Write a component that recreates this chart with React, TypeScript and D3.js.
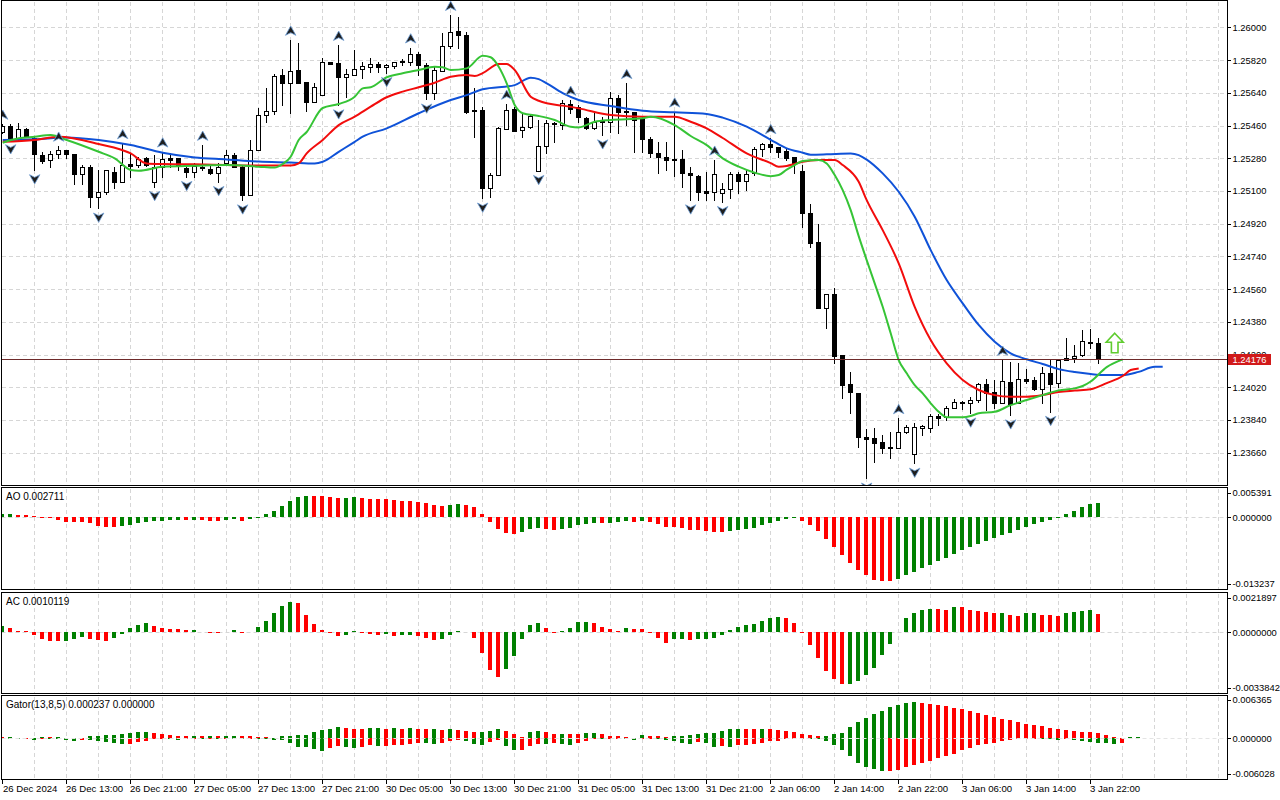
import React from 'react';
import * as d3 from 'd3';

// ---------------- DATA ----------------
const barOpen = [
1.25426,1.25458,1.25385,1.25441,1.25390,1.25298,1.25271,1.25302,1.25324,1.25302,
1.25192,1.25234,1.25065,1.25096,1.25206,1.25151,1.25249,1.25243,1.25280,1.25151,
1.25234,1.25280,1.25280,1.25228,1.25206,1.25226,1.25221,1.25197,1.25252,1.25298,
1.25234,1.25078,1.25326,1.25518,1.25540,1.25738,1.25696,1.25766,1.25701,1.25591,
1.25628,1.25811,1.25806,1.25726,1.25738,1.25770,1.25781,1.25799,1.25781,1.25788,
1.25815,1.25811,1.25854,1.25793,1.25641,1.25762,1.25898,1.25980,1.25958,1.25546,
1.25546,1.25115,1.25188,1.25440,1.25550,1.25436,1.25454,1.25212,1.25348,1.25476,
1.25463,1.25577,1.25561,1.25503,1.25445,1.25491,1.25481,1.25610,1.25542,1.25536,
1.25500,1.25385,1.25307,1.25289,1.25278,1.25278,1.25197,1.25182,1.25098,1.25096,
1.25091,1.25109,1.25193,1.25157,1.25197,1.25329,1.25357,1.25344,1.25320,1.25285,
1.25210,1.24977,1.24818,1.24458,1.24533,1.24197,1.24038,1.23987,1.23745,1.23739,
1.23717,1.23691,1.23684,1.23775,1.23653,1.23798,1.23794,1.23864,1.23855,1.23907,
1.23940,1.23932,1.23950,1.24036,1.23996,1.23932,1.24051,1.23932,1.24064,1.24060,
1.24009,1.24100,1.24042,1.24170,1.24179,1.24197,1.24271,1.24262];
const barHigh = [
1.25469,1.25469,1.25472,1.25447,1.25397,1.25316,1.25322,1.25348,1.25326,1.25304,
1.25243,1.25243,1.25216,1.25216,1.25234,1.25362,1.25307,1.25289,1.25289,1.25298,
1.25316,1.25311,1.25282,1.25238,1.25252,1.25353,1.25249,1.25252,1.25326,1.25307,
1.25243,1.25381,1.25558,1.25665,1.25744,1.25770,1.25931,1.25916,1.25701,1.25696,
1.25830,1.25811,1.25903,1.25770,1.25876,1.25811,1.25830,1.25810,1.25799,1.25811,
1.25825,1.25889,1.25863,1.25806,1.25788,1.25971,1.26068,1.26059,1.25977,1.25665,
1.25564,1.25197,1.25454,1.25579,1.25561,1.25528,1.25518,1.25491,1.25491,1.25481,
1.25601,1.25601,1.25573,1.25509,1.25536,1.25509,1.25646,1.25628,1.25693,1.25536,
1.25513,1.25395,1.25371,1.25371,1.25536,1.25326,1.25230,1.25188,1.25206,1.25271,
1.25142,1.25206,1.25206,1.25216,1.25344,1.25362,1.25390,1.25344,1.25335,1.25289,
1.25243,1.25028,1.24917,1.24533,1.24565,1.24197,1.24106,1.23987,1.23790,1.23794,
1.23757,1.23775,1.23849,1.23812,1.23822,1.23812,1.23873,1.23873,1.23917,1.23954,
1.23944,1.23968,1.24045,1.24064,1.24060,1.24170,1.24161,1.24152,1.24119,1.24078,
1.24130,1.24170,1.24170,1.24289,1.24252,1.24335,1.24339,1.24289];
const barLow = [
1.25419,1.25381,1.25381,1.25397,1.25216,1.25252,1.25230,1.25280,1.25280,1.25137,
1.25137,1.25014,1.25005,1.25082,1.25115,1.25151,1.25179,1.25234,1.25238,1.25124,
1.25179,1.25234,1.25216,1.25179,1.25179,1.25216,1.25193,1.25151,1.25243,1.25234,
1.25050,1.25078,1.25326,1.25481,1.25522,1.25573,1.25531,1.25696,1.25540,1.25591,
1.25628,1.25799,1.25573,1.25619,1.25738,1.25720,1.25756,1.25755,1.25751,1.25775,
1.25793,1.25793,1.25738,1.25605,1.25605,1.25762,1.25885,1.25885,1.25528,1.25399,
1.25060,1.25069,1.25188,1.25440,1.25432,1.25399,1.25445,1.25212,1.25308,1.25372,
1.25440,1.25528,1.25481,1.25440,1.25440,1.25408,1.25426,1.25417,1.25463,1.25316,
1.25316,1.25289,1.25197,1.25216,1.25182,1.25124,1.25050,1.25050,1.25050,1.25050,
1.25041,1.25060,1.25087,1.25105,1.25188,1.25293,1.25316,1.25289,1.25271,1.25197,
1.24903,1.24793,1.24458,1.24344,1.24152,1.23963,1.23880,1.23693,1.23519,1.23610,
1.23657,1.23629,1.23684,1.23770,1.23601,1.23757,1.23775,1.23812,1.23840,1.23904,
1.23899,1.23877,1.23940,1.23895,1.23904,1.23932,1.23867,1.23932,1.24042,1.24005,
1.23932,1.23886,1.24023,1.24170,1.24161,1.24192,1.24234,1.24152];
const barClose = [
1.25458,1.25385,1.25439,1.25403,1.25302,1.25267,1.25302,1.25324,1.25302,1.25192,
1.25230,1.25065,1.25096,1.25216,1.25151,1.25243,1.25239,1.25274,1.25243,1.25234,
1.25274,1.25271,1.25243,1.25206,1.25239,1.25234,1.25197,1.25234,1.25298,1.25234,
1.25078,1.25326,1.25518,1.25540,1.25733,1.25696,1.25760,1.25696,1.25591,1.25674,
1.25811,1.25799,1.25729,1.25744,1.25771,1.25788,1.25799,1.25781,1.25793,1.25808,
1.25808,1.25854,1.25793,1.25641,1.25766,1.25898,1.25977,1.25958,1.25536,1.25540,
1.25115,1.25188,1.25445,1.25546,1.25432,1.25454,1.25513,1.25348,1.25476,1.25469,
1.25583,1.25550,1.25509,1.25445,1.25481,1.25481,1.25610,1.25536,1.25535,1.25491,
1.25385,1.25307,1.25285,1.25271,1.25271,1.25197,1.25186,1.25096,1.25091,1.25192,
1.25109,1.25192,1.25157,1.25193,1.25329,1.25357,1.25340,1.25316,1.25280,1.25252,
1.24977,1.24815,1.24458,1.24533,1.24194,1.24032,1.23996,1.23745,1.23737,1.23715,
1.23687,1.23684,1.23775,1.23800,1.23800,1.23807,1.23862,1.23849,1.23907,1.23940,
1.23932,1.23950,1.24036,1.23987,1.23932,1.24056,1.23928,1.24064,1.24056,1.24009,
1.24100,1.24038,1.24170,1.24179,1.24194,1.24275,1.24265,1.24176];

const lastPrice = 1.24176;
const priceTicks = [1.23660,1.23840,1.24020,1.24200,1.24380,1.24560,1.24740,1.24920,1.25100,1.25280,1.25460,1.25640,1.25820,1.26000];
const priceMin = 1.234796;
const priceMax = 1.261458;

const timeLabels = ["26 Dec 2024","26 Dec 13:00","26 Dec 21:00","27 Dec 05:00","27 Dec 13:00","27 Dec 21:00","30 Dec 05:00","30 Dec 13:00","30 Dec 21:00","31 Dec 05:00","31 Dec 13:00","31 Dec 21:00","2 Jan 06:00","2 Jan 14:00","2 Jan 22:00","3 Jan 06:00","3 Jan 14:00","3 Jan 22:00"];
const timeLabelBars = [0,8,16,24,32,40,48,56,64,72,80,88,96,104,112,120,128,136];

// Alligator (shifted lines, sampled at bar positions)
const jawBars = [0,4,8,12,16,20,24,28,32,36,39,40,42,44,45,48,52,56,58,60,64,66,67,68,70,72,76,80,84,88,90,93,96,98,100,101,103,106,107,108,110,112,114,116,118,120,122,124,126,128,130,132,134,136,138,140,142,144,145];
const jawPrices = [1.25381,1.25385,1.25395,1.25381,1.25353,1.25311,1.25285,1.25274,1.25262,1.25257,1.25252,1.25261,1.25316,1.25371,1.25399,1.25445,1.25528,1.25601,1.25628,1.25660,1.25683,1.25724,1.25716,1.25693,1.25639,1.25601,1.25568,1.25542,1.25533,1.25524,1.25504,1.25454,1.25382,1.25335,1.25311,1.25300,1.25302,1.25307,1.25298,1.25273,1.25197,1.25096,1.24959,1.24775,1.24610,1.24482,1.24363,1.24271,1.24207,1.24174,1.24148,1.24120,1.24104,1.24093,1.24087,1.24087,1.24105,1.24133,1.24133];
const teethBars = [0,4,7,12,16,18,20,24,28,32,36,37,38,40,42,44,46,48,50,52,54,56,58,59,60,62,63,64,66,67,68,70,72,76,80,84,86,88,90,93,96,97,98,99,100,102,104,105,107,108,110,112,114,116,118,120,122,124,126,128,130,132,134,136,138,140,141,142];
const teethPrices = [1.25371,1.25381,1.25399,1.25359,1.25307,1.25252,1.25249,1.25247,1.25243,1.25240,1.25240,1.25252,1.25307,1.25381,1.25463,1.25509,1.25564,1.25616,1.25647,1.25671,1.25696,1.25729,1.25738,1.25733,1.25749,1.25799,1.25799,1.25766,1.25619,1.25597,1.25583,1.25570,1.25555,1.25518,1.25509,1.25509,1.25481,1.25445,1.25392,1.25307,1.25254,1.25234,1.25238,1.25249,1.25261,1.25271,1.25271,1.25243,1.25151,1.25050,1.24885,1.24702,1.24463,1.24280,1.24152,1.24060,1.24005,1.23977,1.23968,1.23968,1.23977,1.23994,1.24002,1.24009,1.24043,1.24082,1.24115,1.24124];
const lipsBars = [0,2,4,6,8,12,14,16,17,20,24,28,32,34,35,36,37,38,40,42,44,45,46,48,50,52,54,55,56,58,60,61,62,63,64,65,67,69,71,72,74,76,80,81,84,86,88,90,92,94,96,97,98,99,100,102,103,104,105,106,107,108,109,110,111,112,113,114,115,116,117,118,120,121,122,124,126,128,130,132,134,135,136,138,140];
const lipsPrices = [1.25366,1.25390,1.25399,1.25408,1.25381,1.25316,1.25280,1.25216,1.25212,1.25234,1.25239,1.25243,1.25234,1.25229,1.25249,1.25289,1.25381,1.25425,1.25557,1.25579,1.25619,1.25665,1.25671,1.25726,1.25748,1.25766,1.25784,1.25781,1.25766,1.25775,1.25844,1.25836,1.25784,1.25693,1.25573,1.25528,1.25513,1.25491,1.25454,1.25450,1.25481,1.25491,1.25500,1.25509,1.25463,1.25403,1.25353,1.25280,1.25234,1.25201,1.25182,1.25188,1.25218,1.25243,1.25265,1.25271,1.25252,1.25188,1.25105,1.24995,1.24852,1.24720,1.24592,1.24463,1.24317,1.24170,1.24097,1.24032,1.23987,1.23932,1.23885,1.23855,1.23855,1.23862,1.23877,1.23885,1.23922,1.23950,1.23977,1.24003,1.24014,1.24027,1.24052,1.24131,1.24174];

// Fractals (bar indices)
const fractalUpBars = [0,7,15,20,25,36,42,51,56,63,71,78,84,89,96,112,125];
const fractalDownBars = [1,4,12,19,23,27,30,42,48,53,60,67,75,86,90,108,114,121,126,131];

// Signal arrow
const signalBar = 139;
const signalPrice = 1.24210;

// Awesome Oscillator
const aoValues = [
0.000609,0.000682,0.000498,0.000480,0.000314,-0.000092,-0.000129,-0.000498,-0.000793,-0.000922,
-0.000941,-0.001107,-0.001531,-0.001844,-0.001863,-0.001660,-0.001420,-0.001051,-0.000922,-0.000738,
-0.000719,-0.000498,-0.000480,-0.000516,-0.000424,-0.000443,-0.000609,-0.000627,-0.000424,-0.000406,
-0.000609,-0.000369,-0.000184,0.000553,0.001236,0.002158,0.003080,0.003818,0.003873,0.003855,
0.003836,0.003689,0.003504,0.003523,0.003689,0.003504,0.003320,0.003301,0.003283,0.003135,
0.002951,0.002933,0.002767,0.002582,0.002213,0.002029,0.002213,0.002398,0.002213,0.001844,
0.000553,-0.000793,-0.002158,-0.002896,-0.003080,-0.002711,-0.002158,-0.001974,-0.002158,-0.002342,
-0.002158,-0.001900,-0.001346,-0.001162,-0.000978,-0.001051,-0.000978,-0.000922,-0.000682,-0.000867,
-0.000609,-0.000793,-0.001236,-0.001789,-0.001808,-0.001974,-0.002342,-0.002361,-0.002527,-0.002711,
-0.002730,-0.002453,-0.002269,-0.002158,-0.001974,-0.001420,-0.001051,-0.000682,-0.000240,-0.000129,
-0.000682,-0.001420,-0.002527,-0.004002,-0.005478,-0.006953,-0.008429,-0.009720,-0.010642,-0.011564,
-0.011749,-0.011767,-0.011380,-0.010642,-0.010089,-0.009351,-0.008798,-0.008060,-0.007507,-0.006769,
-0.006031,-0.005478,-0.004925,-0.004371,-0.003818,-0.003265,-0.002896,-0.002342,-0.001789,-0.001162,
-0.000867,-0.000498,-0.000129,0.000553,0.001107,0.001844,0.002398,0.002711];
const aoColors = "ggrrrrrrrr" + "rrrrrggggg" + "gggrgrrrgg" + "rggggggggr" + "rrrggrrrrr" + "rrrrrrggrr" + "rrrrrgggrr" + "gggggrgggr" + "grrrrrrrrr" + "rggggggggg" + "rrrrrrrrrr" + "rrgggggggg" + "gggggggggg" + "gggggggg";
const aoMax = 0.005391;
const aoMin = -0.013237;

// Accelerator Oscillator
const acValues = [
0.000351,0.000262,0.000072,0.000056,-0.000150,-0.000390,-0.000502,-0.000513,-0.000502,-0.000390,
-0.000279,-0.000351,-0.000446,-0.000502,-0.000334,-0.000111,0.000223,0.000429,0.000541,0.000373,
0.000262,0.000206,0.000195,0.000111,0.000150,0.000039,-0.000017,-0.000039,0.000039,0.000150,
-0.000017,0.000039,0.000279,0.000652,0.001059,0.001488,0.001711,0.001655,0.000987,0.000446,
0.000111,-0.000039,-0.000206,-0.000150,0.000056,-0.000017,-0.000095,-0.000150,-0.000095,-0.000206,
-0.000150,-0.000139,-0.000206,-0.000318,-0.000429,-0.000373,-0.000150,0.000056,0.000039,-0.000318,
-0.001154,-0.002101,-0.002492,-0.002046,-0.001321,-0.000373,0.000390,0.000502,0.000223,-0.000039,
0.000056,0.000223,0.000557,0.000569,0.000502,0.000279,0.000167,0.000056,0.000223,0.000167,
0.000156,-0.000039,-0.000318,-0.000596,-0.000373,-0.000362,-0.000429,-0.000373,-0.000368,-0.000318,
-0.000150,0.000111,0.000279,0.000390,0.000446,0.000613,0.000780,0.000836,0.000780,0.000502,
-0.000028,-0.000708,-0.001432,-0.002157,-0.002603,-0.002882,-0.002876,-0.002714,-0.002380,-0.001990,
-0.001265,-0.000630,0.000039,0.000780,0.001059,0.001226,0.001282,0.001271,0.001254,0.001410,
0.001393,0.001265,0.001210,0.001154,0.001059,0.001076,0.000987,0.000931,0.001059,0.001070,
0.000948,0.000936,0.000925,0.001059,0.001115,0.001210,0.001265,0.0010119];
const acColors = "grrrrrrrgg" + "grrrgggggr" + "rrrrgrrrgg" + "rggggggrrr" + "rrrggrrrgr" + "ggrrrgggrr" + "rrrgggggrr" + "ggggrrrrgr" + "rrrrggrggg" + "ggggggggrr" + "rrrrrrgggg" + "gggggggrrg" + "rrrrrgrrgg" + "rrrggggr";
const acMax = 0.0021897;
const acMin = -0.0033842;

// Gator oscillator (upper = |jaw-teeth|, lower = |teeth-lips| shown below zero)
const gatorUpper = [
0.000196,0.000106,0.000045,0.000045,0.000045,0.000151,0.000151,0.000151,0.000076,0.000076,
0.000076,0.000302,0.000348,0.000408,0.000453,0.000559,0.000710,0.000861,0.000952,0.000801,
0.000604,0.000453,0.000348,0.000332,0.000348,0.000302,0.000317,0.000302,0.000348,0.000363,
0.000302,0.000287,0.000151,0.000106,0.000045,0.000348,0.000378,0.000408,0.000484,0.000907,
0.001209,0.001360,0.001662,0.001511,0.001360,0.001330,0.001511,0.001541,0.001360,0.001511,
0.001360,0.001511,0.001360,0.001330,0.001360,0.001209,0.001360,0.001209,0.001058,0.000907,
0.000952,0.001058,0.001360,0.001058,0.000604,0.000196,0.000907,0.001058,0.000907,0.000604,
0.000635,0.000604,0.000574,0.000756,0.000771,0.000604,0.000302,0.000272,0.000196,0.000076,
0.000453,0.000302,0.000272,0.000151,0.000302,0.000332,0.000453,0.000604,0.000756,0.000786,
0.001058,0.001360,0.001390,0.001360,0.001330,0.001360,0.001330,0.001209,0.001058,0.000907,
0.000604,0.000453,0.000302,0.000332,0.000604,0.000756,0.001617,0.002418,0.003022,0.003626,
0.004125,0.004684,0.005062,0.005289,0.005440,0.005334,0.005213,0.004986,0.004790,0.004609,
0.004382,0.004034,0.003778,0.003521,0.003173,0.002871,0.002765,0.002418,0.002161,0.002010,
0.001768,0.001511,0.001360,0.001163,0.001103,0.000952,0.000937,0.000801,0.000499,0.000196,
0.000060,0.000151,0.000237];
const gatorUpperColors = "rgrgrgrgrr" + "gggggggggr" + "rrrrgrgrgg" + "rrrrrggggg" + "gggrrrggrg" + "rgrrgrgrrr" + "gggrrrggrr" + "grrggrrrrr" + "grrrgggggg" + "gggrrgrrrr" + "rrrggggggg" + "gggggrrrrr" + "rrrrrrrrrr" + "rrrrrrrrrr" + "rgg";
const gatorLower = [
0.000106,0.000106,0.000196,0.000196,0.000302,0.000076,0.000076,0.000106,0.000302,0.000453,
0.000257,0.000348,0.000453,0.000604,0.000801,0.000907,0.000861,0.000650,0.000453,0.000196,
0.000106,0.000196,0.000302,0.000151,0.000106,0.000151,0.000106,0.000151,0.000106,0.000151,
0.000166,0.000106,0.000121,0.000196,0.000257,0.000302,0.000801,0.001315,0.001405,0.001617,
0.001919,0.001466,0.001163,0.001315,0.001466,0.001315,0.001012,0.001163,0.001133,0.001012,
0.000982,0.000907,0.000756,0.000786,0.000907,0.000756,0.000408,0.000302,0.000408,0.000907,
0.001012,0.000604,0.000257,0.001163,0.001813,0.001768,0.001163,0.000907,0.000937,0.000756,
0.000907,0.001012,0.000756,0.000408,0.000151,0.000166,0.000151,0.000106,0.000196,0.000212,
0.000151,0.000045,0.000106,0.000257,0.000408,0.000710,0.000907,0.000559,0.000756,0.001315,
0.001209,0.001315,0.001012,0.000982,0.000907,0.000756,0.000453,0.000408,0.000151,0.000106,
0.000045,0.000076,0.000091,0.000408,0.001012,0.001813,0.002720,0.003778,0.004382,0.004684,
0.005032,0.004941,0.004881,0.004337,0.004080,0.003823,0.003521,0.003067,0.002765,0.002418,
0.001859,0.001511,0.001012,0.000861,0.000801,0.000499,0.000257,0.000151,0.000045,0.000030,
0.000045,0.000151,0.000257,0.000151,0.000257,0.000499,0.000604,0.000710,0.000801,0.000952,
0.000801];
const gatorLowerColors = "rggrgrgggg" + "rgggggrrrr" + "rggrrgrgrg" + "grgggggggg" + "grrggrrgrr" + "rrrggrrrgg" + "grrggrrrgr" + "ggrrrgrrgg" + "rrgggggrgg" + "rgrrrrrrrr" + "rggggggggg" + "grrrrrrrrr" + "rrrrrrrrrr" + "gggrgggggg" + "r";
const gatorMax = 0.006365;
const gatorMin = -0.006028;

// ---------------- CHART ----------------
const FONT = "'Liberation Sans', Arial, sans-serif";
const GREEN = '#008000';
const RED = '#ff0000';
const GRID = '#d6d6d6';
const PLOT_L = 1.5;
const PLOT_R = 1227;
const FS = 9.4;

export default function App() {
  const xs = d3.scaleLinear().domain([0, 153]).range([2.7, 1226.7]);
  const yMain = d3.scaleLinear().domain([priceMin, priceMax]).range([485.5, 1]);
  const yAO = d3.scaleLinear().domain([aoMin, aoMax]).range([589, 488]);
  const yAC = d3.scaleLinear().domain([acMin, acMax]).range([693, 593]);
  const yG = d3.scaleLinear().domain([gatorMin, gatorMax]).range([778, 696]);

  const panels = [
    { top: 0.5, bottom: 485.5 },
    { top: 487.5, bottom: 589.5 },
    { top: 592.5, bottom: 693.5 },
    { top: 695.5, bottom: 779.5 },
  ];
  const gridBars = d3.range(4, 154, 4);
  const cxOf = (i: number) => Math.floor(xs(i)) + 0.5;

  const mkLine = (bars: number[], prices: number[]) =>
    d3.line<number>()
      .x((_, k) => xs(bars[k]))
      .y((p) => yMain(p))
      .curve(d3.curveMonotoneX)(prices) || '';

  const upArrow = 'M0,-5 L5.2,4.3 L0,1.6 L-5.2,4.3 Z';
  const downArrow = 'M0,5 L5.2,-4.3 L0,-1.6 L-5.2,-4.3 Z';

  const histBar = (i: number, v: number, sc: d3.ScaleLinear<number, number>, col: string, key: string) => {
    const x0 = xs(i) - 2.4;
    const y0 = sc(0);
    const y1 = sc(v);
    const top = Math.min(y0, y1);
    const h = Math.max(Math.abs(y1 - y0), 0.8);
    return <rect key={key} x={x0} y={top} width={3.6} height={h} fill={col} />;
  };

  const sigX = xs(signalBar);
  const sigY = yMain(signalPrice);
  const sigPath = `M${sigX},${sigY - 19.5} L${sigX + 8.5},${sigY - 10.5} L${sigX + 3.3},${sigY - 10.5} L${sigX + 3.3},${sigY} L${sigX - 3.3},${sigY} L${sigX - 3.3},${sigY - 10.5} L${sigX - 8.5},${sigY - 10.5} Z`;

  const lastY = Math.round(yMain(lastPrice)) + 0.5;

  const rightLabel = (key: string, y: number, text: string, clip?: string) => (
    <g key={key}>
      <line x1={PLOT_R} x2={PLOT_R + 4} y1={Math.round(y) + 0.5} y2={Math.round(y) + 0.5} stroke="#000" />
      <text x={1232.5} y={y + 3.4} fontSize={FS} fontFamily={FONT} fill="#000" clipPath={clip}>{text}</text>
    </g>
  );

  return (
    <div style={{ position: 'fixed', left: 0, top: 0, width: 1280, height: 800, background: '#fff' }}>
      <svg width={1280} height={800} style={{ display: 'block' }}>
        <defs>
          <clipPath id="mainClip"><rect x={2} y={1} width={1225} height={484} /></clipPath>
          <clipPath id="aoClip"><rect x={2} y={488} width={1225} height={101} /></clipPath>
          <clipPath id="acClip"><rect x={2} y={593} width={1225} height={100} /></clipPath>
          <clipPath id="gClip"><rect x={2} y={696} width={1225} height={83} /></clipPath>
          <clipPath id="hidUnderBox"><rect x={1228} y={0} width={52} height={lastY - 5.5} /></clipPath>
        </defs>
        <rect x={0} y={0} width={1280} height={800} fill="#fff" />

        {/* vertical grid */}
        {panels.map((p, pi) => (
          <g key={'vg' + pi}>
            {gridBars.map((b) => (
              <line key={b} x1={Math.floor(xs(b)) + 0.5} x2={Math.floor(xs(b)) + 0.5} y1={p.top + 1} y2={p.bottom - 1}
                stroke={GRID} strokeDasharray="4,3" shapeRendering="crispEdges" />
            ))}
          </g>
        ))}
        {/* horizontal grid main */}
        {priceTicks.map((t) => (
          <line key={t} x1={PLOT_L} x2={PLOT_R} y1={Math.round(yMain(t)) + 0.5} y2={Math.round(yMain(t)) + 0.5}
            stroke={GRID} strokeDasharray="4,3" shapeRendering="crispEdges" />
        ))}

        {/* ---- main panel ---- */}
        <g clipPath="url(#mainClip)">
          {barOpen.map((o, i) => {
            const c = barClose[i];
            const cx = cxOf(i);
            const yH = yMain(barHigh[i]);
            const yL = yMain(barLow[i]);
            const yO = yMain(o);
            const yC = yMain(c);
            const top = Math.round(Math.min(yO, yC)) + 0.5;
            const bot = Math.round(Math.max(yO, yC)) + 0.5;
            const bull = c >= o;
            return (
              <g key={'c' + i} shapeRendering="crispEdges">
                <line x1={cx} x2={cx} y1={Math.round(yH)} y2={Math.round(yL) + 1} stroke="#000" />
                {bot - top < 1 ? (
                  <line x1={cx - 2.5} x2={cx + 2.5} y1={top} y2={top} stroke="#000" />
                ) : (
                  <rect x={cx - 2} y={top} width={4} height={bot - top} fill={bull ? '#fff' : '#000'} stroke="#000" />
                )}
              </g>
            );
          })}

          <path d={mkLine(jawBars, jawPrices)} fill="none" stroke="#0f52d8" strokeWidth={2} />
          <path d={mkLine(teethBars, teethPrices)} fill="none" stroke="#f20c0c" strokeWidth={2} />
          <path d={mkLine(lipsBars, lipsPrices)} fill="none" stroke="#36c436" strokeWidth={2} />

          {fractalUpBars.map((b) => (
            <path key={'fu' + b} d={upArrow} transform={`translate(${xs(b)},${yMain(barHigh[b]) - 9})`}
              fill="#1e1e1e" stroke="#6f9fd8" strokeWidth={0.8} />
          ))}
          {fractalDownBars.map((b) => (
            <path key={'fd' + b} d={downArrow} transform={`translate(${xs(b)},${yMain(barLow[b]) + 9})`}
              fill="#1e1e1e" stroke="#6f9fd8" strokeWidth={0.8} />
          ))}

          <path d={sigPath} fill="#ffffff" stroke="#5fcc2e" strokeWidth={1.6} />
          <line x1={PLOT_L} x2={PLOT_R} y1={lastY} y2={lastY} stroke="#6e2a2a" strokeWidth={1} shapeRendering="crispEdges" />
        </g>

        {/* ---- AO ---- */}
        <line x1={PLOT_L} x2={PLOT_R} y1={Math.round(yAO(0)) + 0.5} y2={Math.round(yAO(0)) + 0.5} stroke={GRID} strokeDasharray="4,3" />
        <g clipPath="url(#aoClip)" shapeRendering="crispEdges">
          {aoValues.map((v, i) => histBar(i, v, yAO, aoColors[i] === 'g' ? GREEN : RED, 'ao' + i))}
        </g>
        <text x={6} y={499.5} fontSize={10} fontFamily={FONT} fill="#000">AO 0.002711</text>

        {/* ---- AC ---- */}
        <line x1={PLOT_L} x2={PLOT_R} y1={Math.round(yAC(0)) + 0.5} y2={Math.round(yAC(0)) + 0.5} stroke={GRID} strokeDasharray="4,3" />
        <g clipPath="url(#acClip)" shapeRendering="crispEdges">
          {acValues.map((v, i) => histBar(i, v, yAC, acColors[i] === 'g' ? GREEN : RED, 'ac' + i))}
        </g>
        <text x={6} y={604.5} fontSize={10} fontFamily={FONT} fill="#000">AC 0.0010119</text>

        {/* ---- Gator ---- */}
        <g clipPath="url(#gClip)" shapeRendering="crispEdges">
          {gatorUpper.map((v, i) => histBar(i, v, yG, gatorUpperColors[i] === 'g' ? GREEN : RED, 'gu' + i))}
          {gatorLower.map((v, i) => histBar(i, -v, yG, gatorLowerColors[i] === 'g' ? GREEN : RED, 'gl' + i))}
        </g>
        <line x1={PLOT_L} x2={PLOT_R} y1={Math.round(yG(0)) + 0.5} y2={Math.round(yG(0)) + 0.5} stroke="#e4e4e4" strokeDasharray="4,3" />
        <text x={6} y={708} fontSize={10} fontFamily={FONT} fill="#000">Gator(13,8,5) 0.000237 0.000000</text>

        {/* panel frames */}
        {panels.map((p, pi) => (
          <rect key={'pf' + pi} x={PLOT_L} y={p.top} width={PLOT_R - PLOT_L} height={p.bottom - p.top}
            fill="none" stroke="#000" strokeWidth={1} shapeRendering="crispEdges" />
        ))}

        {/* right price axis */}
        {priceTicks.map((t) => rightLabel('pt' + t, yMain(t), t.toFixed(5),
          Math.abs(yMain(t) - lastY) < 10 ? 'url(#hidUnderBox)' : undefined))}
        <rect x={1228} y={lastY - 5.5} width={43} height={11} fill="#d11a1a" />
        <text x={1232.5} y={lastY + 3.4} fontSize={FS} fontFamily={FONT} fill="#fff">{lastPrice.toFixed(5)}</text>

        {rightLabel('aomax', yAO(aoMax) + 5, aoMax.toFixed(6))}
        {rightLabel('aozero', yAO(0), (0).toFixed(6))}
        {rightLabel('aomin', yAO(aoMin) - 5, aoMin.toFixed(6))}
        {rightLabel('acmax', yAC(acMax) + 4.5, acMax.toFixed(7))}
        {rightLabel('aczero', yAC(0), (0).toFixed(7))}
        {rightLabel('acmin', yAC(acMin) - 5.5, acMin.toFixed(7))}
        {rightLabel('gmax', yG(gatorMax) + 4, gatorMax.toFixed(6))}
        {rightLabel('gzero', yG(0), (0).toFixed(6))}
        {rightLabel('gmin', yG(gatorMin) - 4.5, gatorMin.toFixed(6))}

        {/* time axis */}
        {timeLabels.map((lab, k) => {
          const tx = Math.floor(xs(timeLabelBars[k])) + 0.5;
          return (
            <g key={'tl' + k}>
              <line x1={tx} x2={tx} y1={779.5} y2={784} stroke="#000" shapeRendering="crispEdges" />
              <text x={k === 0 ? 3 : tx - 0.5} y={791.5} fontSize={9.6} fontFamily={FONT} fill="#000">{lab}</text>
            </g>
          );
        })}
      </svg>
    </div>
  );
}
